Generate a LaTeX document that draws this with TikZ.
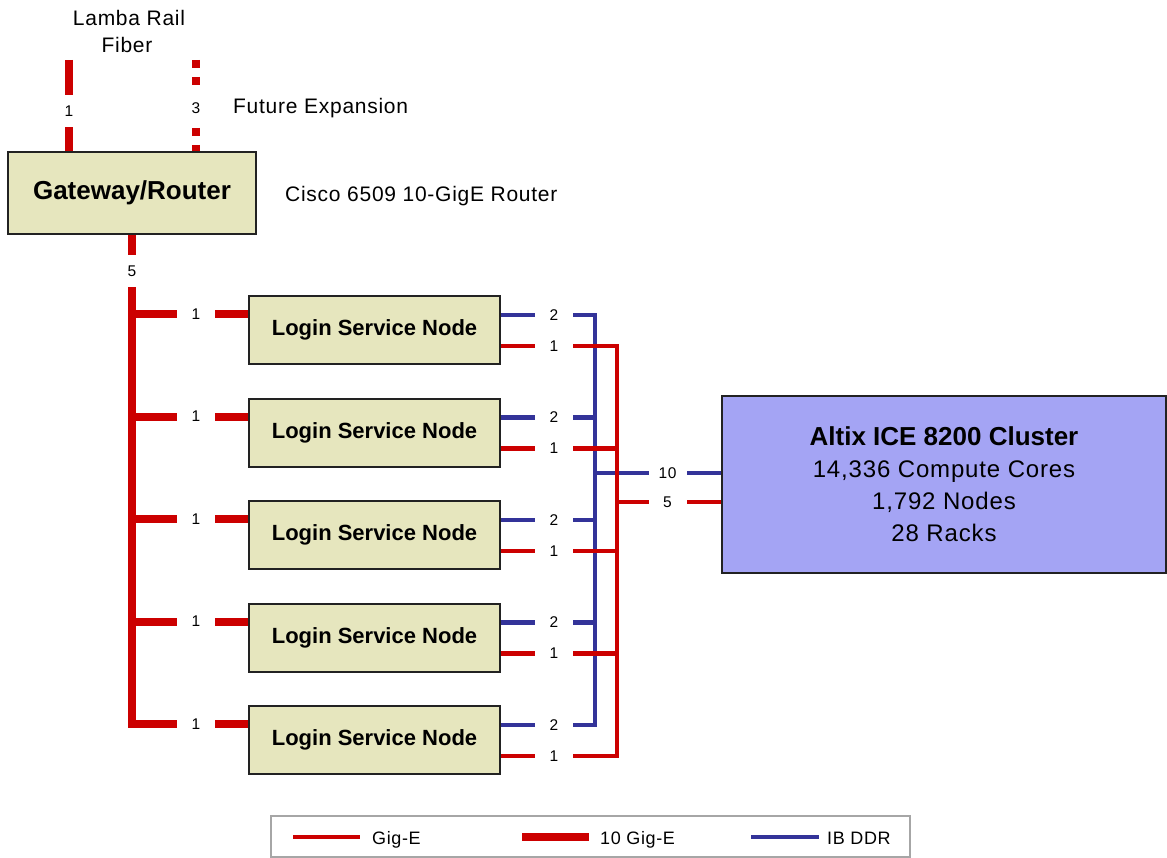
\documentclass[tikz,border=0pt]{standalone}
\usepackage{fontspec}
\setmainfont{Liberation Sans}
\newfontfamily\widefont[LetterSpace=3.5]{Liberation Sans}
\usetikzlibrary{calc}
\definecolor{gred}{HTML}{CC0000}
\definecolor{ibblue}{HTML}{333399}
\definecolor{boxfill}{HTML}{E6E6BE}
\definecolor{clfill}{HTML}{A4A4F4}
\definecolor{edgec}{HTML}{222222}
\pgfdeclarelayer{bg}
\pgfsetlayers{bg,main}
\begin{document}
\begin{tikzpicture}[x=1pt,y=-1pt,
  tge/.style={gred, line width=8pt},
  ge/.style={gred, line width=4.5pt},
  ib/.style={ibblue, line width=4.5pt},
  devbox/.style={draw=edgec, line width=2pt, fill=boxfill, inner sep=0},
  lsn/.style={devbox, minimum width=251pt, minimum height=68pt, font=\fontsize{22}{26}\selectfont\bfseries},
  hlab/.style={fill=white, inner sep=0, minimum width=38pt, minimum height=22pt, font=\widefont\fontsize{15.5}{18}\selectfont},
  vlab/.style={fill=white, inner sep=0, minimum width=18pt, minimum height=32pt, font=\widefont\fontsize{15.5}{18}\selectfont},
  txt/.style={font=\widefont\fontsize{21}{25}\selectfont, inner sep=0},
  legtxt/.style={font=\widefont\fontsize{18}{22}\selectfont, inner sep=0, anchor=base west},
]
\useasboundingbox (0,0) rectangle (1167,858);

% texts
\node[txt] (lr1) at (129,18) {Lamba Rail};
\node[txt] (lr2) at (127,45) {Fiber};
\node[txt, anchor=west] (fe) at (233,108) {Future Expansion};
\node[txt, anchor=west] (cisco) at (285,196) {Cisco 6509 10-GigE Router};

% gateway
\node[devbox, minimum width=248pt, minimum height=82pt, font=\fontsize{26}{30}\selectfont\bfseries] (gw) at (132,193) {Gateway/Router};
\coordinate (lrtop) at (69,60);
\coordinate (fetop) at (196,60);

% login nodes
\foreach \i/\yy in {1/330, 2/432.5, 3/535, 4/637.5, 5/740}{
  \node[lsn] (l\i) at (374.5,\yy) {Login Service Node};
  \coordinate (in\i) at ($(l\i.west)+(0,-16)$);
  \coordinate (bo\i) at ($(l\i.east)+(0,-15)$);
  \coordinate (ro\i) at ($(l\i.east)+(0,16)$);
}

% cluster
\node[draw=edgec, line width=2pt, fill=clfill, minimum width=444pt, minimum height=177pt, align=center, inner sep=0,
  font=\fontsize{24}{32}\selectfont] (cl) at (944,484.5)
  {{\fontsize{26}{32}\selectfont\bfseries Altix ICE 8200 Cluster}\\{\widefont 14,336 Compute Cores}\\{\widefont 1,792 Nodes}\\{\widefont 28 Racks}};
\coordinate (cb) at ($(cl.west)+(0,-11.5)$);
\coordinate (cr) at ($(cl.west)+(0,17.5)$);
\coordinate (bbx) at (595,0);
\coordinate (rbx) at (617,0);

\begin{pgfonlayer}{bg}
  \draw[tge] (lrtop) -- (lrtop |- gw.north);
  \draw[tge, dash pattern=on 8pt off 9pt] (fetop) -- (fetop |- gw.north);
  \draw[tge, line join=miter] (gw.south) -- (gw.south |- in5) -- (in5);
  \foreach \i in {1,...,4}{ \draw[tge] (gw.south |- in\i) -- (in\i); }
  % IB DDR
  \draw[ib, line join=miter] (bo1) -- (bo1 -| bbx) -- (bo5 -| bbx) -- (bo5);
  \foreach \i in {2,...,4}{ \draw[ib] (bo\i) -- (bo\i -| bbx); }
  \draw[ib] (bbx |- cb) -- (cb);
  % Gig-E
  \draw[ge, line join=miter] (ro1) -- (ro1 -| rbx) -- (ro5 -| rbx) -- (ro5);
  \foreach \i in {2,...,4}{ \draw[ge] (ro\i) -- (ro\i -| rbx); }
  \draw[ge] (rbx |- cr) -- (cr);
\end{pgfonlayer}

% labels
\node[vlab] (n1) at (69,111) {1};
\node[vlab] (n3) at (196,108) {3};
\node[vlab] (n5) at (132,271) {5};
\foreach \i in {1,...,5}{
  \node[hlab] (a\i) at ($(in\i)+(-52,0)$) {1};
  \node[hlab] (b\i) at ($(bo\i)+(53,0)$) {2};
  \node[hlab] (c\i) at ($(ro\i)+(53,0)$) {1};
}
\node[hlab] (n10) at ($(cb)+(-53.5,0)$) {10};
\node[hlab] (n5b) at ($(cr)+(-53.5,0)$) {5};

% legend
\node[draw=gray!70, line width=1.5pt, minimum width=639pt, minimum height=41pt, inner sep=0] (leg) at (590.5,836.5) {};
\coordinate (g1a) at (293,837); \coordinate (g1b) at (360,837);
\coordinate (g2a) at (522,837); \coordinate (g2b) at (589,837);
\coordinate (g3a) at (751,837); \coordinate (g3b) at (819,837);
\draw[ge] (g1a) -- (g1b);
\draw[tge] (g2a) -- (g2b);
\draw[ib] (g3a) -- (g3b);
\node[legtxt] (t1) at (372,844) {Gig-E};
\node[legtxt] (t2) at (600,844) {10 Gig-E};
\node[legtxt] (t3) at (827,844) {IB DDR};
\end{tikzpicture}
\end{document}
